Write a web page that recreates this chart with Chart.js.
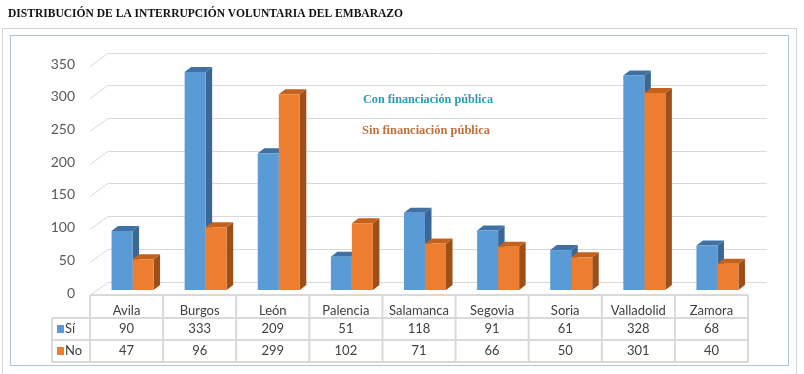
<!DOCTYPE html>
<html>
<head>
<meta charset="utf-8">
<script src="https://cdn.jsdelivr.net/npm/chart.js@4.4.1/dist/chart.umd.min.js"></script>
<style>
  html, body { margin: 0; padding: 0; background: #fff; }
  #wrap { position: relative; width: 804px; height: 374px; }
</style>
</head>
<body>
<div id="wrap"><canvas id="chart" width="804" height="374"></canvas></div>
<script>
// datos
var categories = ['Avila', 'Burgos', 'León', 'Palencia', 'Salamanca', 'Segovia', 'Soria', 'Valladolid', 'Zamora'];
var seriesNames = ['Sí', 'No'];
var siValues = [90, 333, 209, 51, 118, 91, 61, 328, 68];
var noValues = [47, 96, 299, 102, 71, 66, 50, 301, 40];
var yMax = 350;
var yStep = 50;

var titleText = 'DISTRIBUCIÓN DE LA INTERRUPCIÓN VOLUNTARIA DEL EMBARAZO';
var noteCon = 'Con financiación pública';
var noteSin = 'Sin financiación pública';

// colores: frente, arriba, lado
var colors = [
    { front: '#5b9bd5', top: '#3f71a5', side: '#3a6795' },
    { front: '#ed7d31', top: '#c4621d', side: '#9d4f18' }
];

var depthX = 6.5, depthY = -5;   // profundidad de las barras
var shift = 6;                   // desplazamiento plano frontal / barras

//------------------------------ plugin 3D + tabla ------------------------------
var bar3d = {
    id: 'bar3d',
    beforeDraw: function (chart) {
        var ctx = chart.ctx;
        ctx.save();
        ctx.fillStyle = '#fff';
        ctx.fillRect(0, 0, chart.width, chart.height);

        // titulo
        ctx.fillStyle = '#111';
        ctx.font = 'bold 13px "Liberation Serif", "Times New Roman", serif';
        ctx.textBaseline = 'alphabetic';
        ctx.textAlign = 'left';
        ctx.fillText(titleText, 8, 17, 395);

        // marcos
        ctx.strokeStyle = '#d4d4d4';
        ctx.lineWidth = 1;
        ctx.strokeRect(2.5, 28.5, 794, 350);
        ctx.strokeStyle = '#aec3d4';
        ctx.strokeRect(10.5, 35.5, 778, 330);
        ctx.restore();
    },
    beforeDatasetsDraw: function (chart) {
        var ctx = chart.ctx;
        var x = chart.scales.x, y = chart.scales.y;
        var area = chart.chartArea;
        ctx.save();

        // rejilla de la pared del fondo
        ctx.strokeStyle = '#d9d9d9';
        ctx.lineWidth = 1;
        var leftFront = area.left - shift, leftBack = area.left + 12;
        for (var v = 0; v <= yMax; v += yStep) {
            var py = y.getPixelForValue(v);
            var back = Math.round(py - 8.5) + 0.5;
            var front = Math.round(py + 4.5) + 0.5;
            ctx.beginPath();
            ctx.moveTo(leftFront, front);
            ctx.lineTo(leftBack, back);
            ctx.lineTo(area.right + 13, back);
            ctx.stroke();
        }

        // caras laterales y superiores
        var metas = [chart.getDatasetMeta(0), chart.getDatasetMeta(1)];
        for (var i = 0; i < categories.length; i++) {
            for (var d = 0; d < metas.length; d++) {
                var el = metas[d].data[i];
                var l = el.x - el.width / 2, r = el.x + el.width / 2;
                var t = el.y, b = el.base;
                ctx.fillStyle = colors[d].side;
                ctx.beginPath();
                ctx.moveTo(r, t);
                ctx.lineTo(r + depthX, t + depthY);
                ctx.lineTo(r + depthX, b + depthY);
                ctx.lineTo(r, b);
                ctx.closePath();
                ctx.fill();
                ctx.fillStyle = colors[d].top;
                ctx.beginPath();
                ctx.moveTo(l, t);
                ctx.lineTo(l + depthX, t + depthY);
                ctx.lineTo(r + depthX, t + depthY);
                ctx.lineTo(r, t);
                ctx.closePath();
                ctx.fill();
            }
        }
        ctx.restore();
    },
    afterDraw: function (chart) {
        var ctx = chart.ctx;
        var x = chart.scales.x, y = chart.scales.y;
        var area = chart.chartArea;
        ctx.save();

        // notas
        ctx.font = 'bold 12.5px "Liberation Serif", "Times New Roman", serif';
        ctx.textAlign = 'center';
        ctx.textBaseline = 'middle';
        var nx = x.getPixelForValue(4) + 3;
        ctx.fillStyle = '#2a9db3';
        ctx.fillText(noteCon, nx, y.getPixelForValue(290), 130);
        ctx.fillStyle = '#c0703c';
        ctx.fillText(noteSin, nx - 2, y.getPixelForValue(243), 128);

        // tabla de datos
        var colW = (area.right - area.left) / categories.length;
        var tLeft = area.left - shift;
        var tRight = area.right - shift;
        var top = area.bottom + 5;
        var r1 = top + 23, r2 = r1 + 22, r3 = r2 + 22;
        var labelLeft = 52;

        ctx.strokeStyle = '#d9d9d9';
        ctx.lineWidth = 2;
        ctx.beginPath();
        ctx.moveTo(tLeft, top); ctx.lineTo(tRight, top);
        [r1, r2, r3].forEach(function (ry) {
            ctx.moveTo(labelLeft, ry); ctx.lineTo(tRight, ry);
        });
        ctx.moveTo(labelLeft, r1); ctx.lineTo(labelLeft, r3);
        for (var c = 0; c <= categories.length; c++) {
            var cx = tLeft + c * colW;
            ctx.moveTo(cx, top); ctx.lineTo(cx, r3);
        }
        ctx.stroke();

        // leyenda de filas
        var rows = [siValues, noValues];
        var rowMid = [(r1 + r2) / 2, (r2 + r3) / 2];
        ctx.font = '13px Lato, "Open Sans", sans-serif';
        ctx.textBaseline = 'middle';
        for (var s = 0; s < rows.length; s++) {
            ctx.fillStyle = colors[s].front;
            ctx.fillRect(labelLeft + 5, rowMid[s] - 4, 7, 8);
            ctx.fillStyle = '#404040';
            ctx.textAlign = 'left';
            ctx.fillText(seriesNames[s], labelLeft + 13, rowMid[s]);
            ctx.textAlign = 'center';
            for (var k = 0; k < categories.length; k++) {
                ctx.fillText(String(rows[s][k]), x.getPixelForValue(k) - shift, rowMid[s]);
            }
        }
        ctx.restore();
    }
};

var ctx = document.getElementById('chart').getContext('2d');
var chart = new Chart(ctx, {
    type: 'bar',
    data: {
        labels: categories,
        datasets: [
            { label: seriesNames[0], data: siValues, backgroundColor: colors[0].front, borderWidth: 0 },
            { label: seriesNames[1], data: noValues, backgroundColor: colors[1].front, borderWidth: 0 }
        ]
    },
    options: {
        responsive: false,
        animation: false,
        devicePixelRatio: 1,
        layout: { padding: { top: 61, right: 50, bottom: 0, left: 0 } },
        datasets: { bar: { categoryPercentage: 0.575, barPercentage: 1 } },
        plugins: {
            legend: { display: false },
            tooltip: { enabled: false },
            title: { display: false }
        },
        scales: {
            x: {
                grid: { display: false, drawTicks: false },
                border: { display: false },
                ticks: {
                    padding: 13,
                    labelOffset: -shift,
                    color: '#404040',
                    font: { family: 'Lato', size: 13 },
                    maxRotation: 0,
                    autoSkip: false
                },
                afterFit: function (s) { s.height = 84; }
            },
            y: {
                min: 0,
                max: yMax,
                grid: { display: false, drawTicks: false },
                border: { display: false },
                ticks: {
                    stepSize: yStep,
                    padding: 21,
                    labelOffset: 3,
                    color: '#595959',
                    font: { family: 'Lato', size: 14 }
                },
                afterFit: function (s) { s.width = 96; }
            }
        }
    },
    plugins: [bar3d]
});
</script>
</body>
</html>
